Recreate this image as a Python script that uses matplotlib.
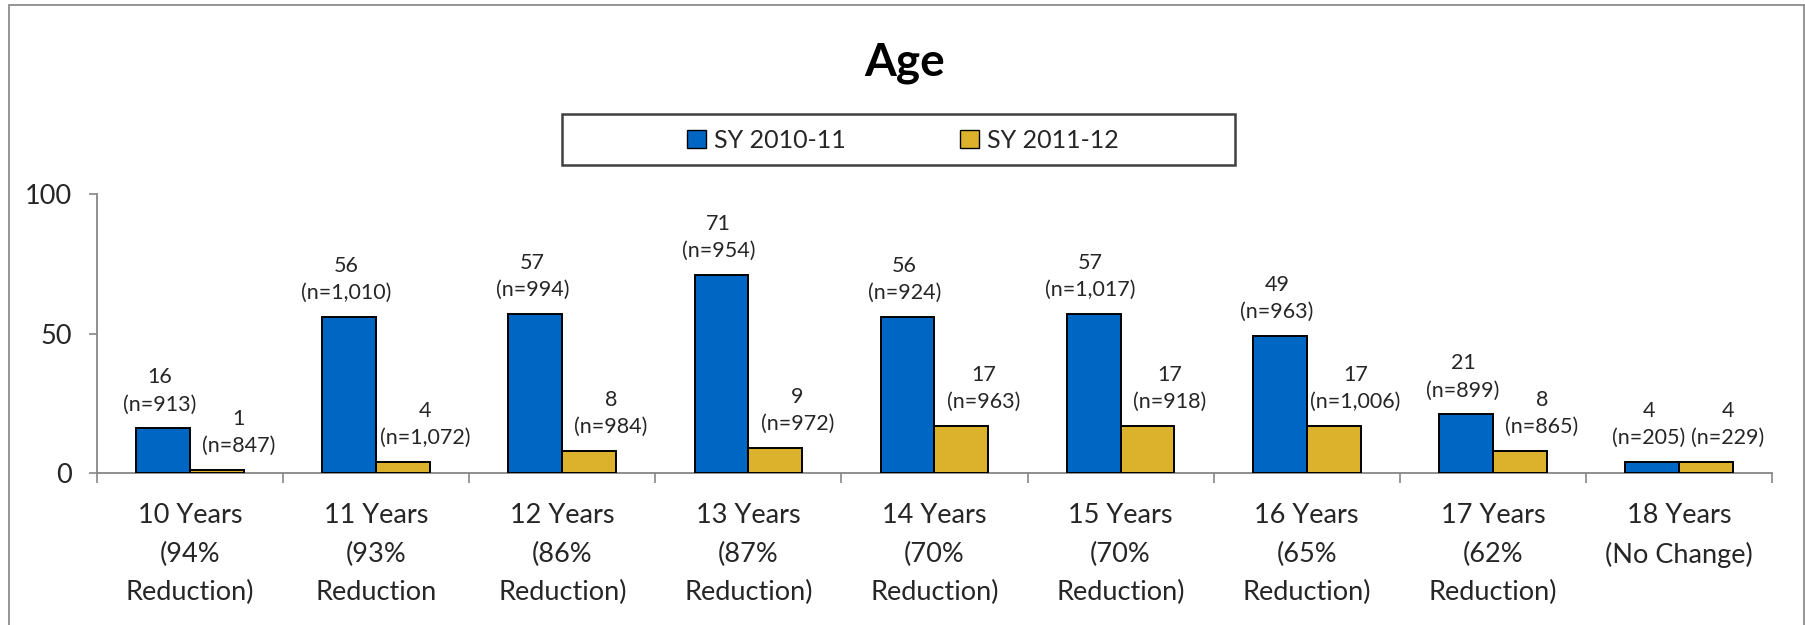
import matplotlib
matplotlib.use("Agg")
import matplotlib.pyplot as plt
from matplotlib.patches import Rectangle, Patch
import numpy as np

plt.rcParams['font.family'] = ['Lato', 'DejaVu Sans']

# ---------------- data ----------------
categories = ["10 Years\n(94%\nReduction)", "11 Years\n(93%\nReduction",
              "12 Years\n(86%\nReduction)", "13 Years\n(87%\nReduction)",
              "14 Years\n(70%\nReduction)", "15 Years\n(70%\nReduction)",
              "16 Years\n(65%\nReduction)", "17 Years\n(62%\nReduction)",
              "18 Years\n(No Change)"]
series_names = ["SY 2010-11", "SY 2011-12"]
values_2010 = [16, 56, 57, 71, 56, 57, 49, 21, 4]
values_2011 = [1, 4, 8, 9, 17, 17, 17, 8, 4]
n_2010 = [913, 1010, 994, 954, 924, 1017, 963, 899, 205]
n_2011 = [847, 1072, 984, 972, 963, 918, 1006, 865, 229]
y_ticks = [0, 50, 100]
title = "Age"

# ---------------- style ----------------
W, H, DPI = 1806, 625, 100
blue = "#0066C4"
gold = "#DCB22C"
axis_gray = "#868686"
text_col = "#262626"
px = 72.0 / DPI  # points per pixel

fig = plt.figure(figsize=(W / DPI, H / DPI), dpi=DPI)
fig.patch.set_facecolor("white")

# outer chart border
fig.patches.append(Rectangle((9 / W, -0.02), (1804 - 9) / W, 1 - 5 / H + 0.02,
                             transform=fig.transFigure, fill=False,
                             edgecolor="#8c8c8c", linewidth=1.3))

left, right = 97 / W, 1772 / W
bottom, top = 1 - 473 / H, 1 - 194 / H
ax = fig.add_axes([left, bottom, right - left, top - bottom])

x = np.arange(len(categories))
bw = 0.289
ax.bar(x - bw / 2, values_2010, bw, color=blue, edgecolor="black", linewidth=1.4, zorder=3)
ax.bar(x + bw / 2, values_2011, bw, color=gold, edgecolor="black", linewidth=1.4, zorder=3)

ax.set_xlim(-0.5, len(categories) - 0.5)
ax.set_ylim(0, 100)

for sp in ["top", "right"]:
    ax.spines[sp].set_visible(False)
for sp in ["left", "bottom"]:
    ax.spines[sp].set_color(axis_gray)
    ax.spines[sp].set_linewidth(1.3)

ax.set_yticks(y_ticks)
ax.set_yticklabels([str(v) for v in y_ticks], fontsize=19.5, color=text_col)
ax.tick_params(axis="y", length=8 * px, width=1.2, color=axis_gray, pad=17 * px)

ax.set_xticks(x)
ax.set_xticklabels(categories, fontsize=19.5, color=text_col, linespacing=1.68)
ax.tick_params(axis="x", which="major", length=0, pad=30 * px)
ax.set_xticks(np.arange(-0.5, len(categories), 1.0), minor=True)
ax.tick_params(axis="x", which="minor", length=10 * px, width=1.2, color=axis_gray, direction="out")

lab_fs = 15.5
for xi, v, n in zip(x, values_2010, n_2010):
    ax.annotate(f"{v}", (xi - bw / 2, v), xytext=(-3 * px, 51 * px), textcoords="offset points",
                ha="center", va="center", fontsize=lab_fs, color=text_col)
    ax.annotate(f"(n={n:,})", (xi - bw / 2, v), xytext=(-3 * px, 24 * px), textcoords="offset points",
                ha="center", va="center", fontsize=lab_fs, color=text_col)
for xi, v, n in zip(x, values_2011, n_2011):
    ax.annotate(f"{v}", (xi + bw / 2, v), xytext=(22 * px, 51 * px), textcoords="offset points",
                ha="center", va="center", fontsize=lab_fs, color=text_col)
    ax.annotate(f"(n={n:,})", (xi + bw / 2, v), xytext=(22 * px, 24 * px), textcoords="offset points",
                ha="center", va="center", fontsize=lab_fs, color=text_col)

# title
fig.text(905 / W, 1 - 75 / H, title, ha="center", va="baseline",
         fontsize=33, fontweight="bold", color="black")

# legend box
fig.patches.append(Rectangle((562 / W, 1 - 165 / H), (1235 - 562) / W, (165 - 114) / H,
                             transform=fig.transFigure, fill=False,
                             edgecolor="#404040", linewidth=1.8))
handles = [Patch(facecolor=blue, edgecolor="black", linewidth=1.0),
           Patch(facecolor=gold, edgecolor="black", linewidth=1.0)]
fig.legend(handles, series_names, loc="center", bbox_to_anchor=(903 / W, 1 - 140 / H),
           ncol=2, frameon=False, fontsize=18, handlelength=0.75, handleheight=0.75,
           handletextpad=0.3, columnspacing=4.6, labelcolor=text_col)

fig.savefig("out.png", dpi=DPI, facecolor="white")
